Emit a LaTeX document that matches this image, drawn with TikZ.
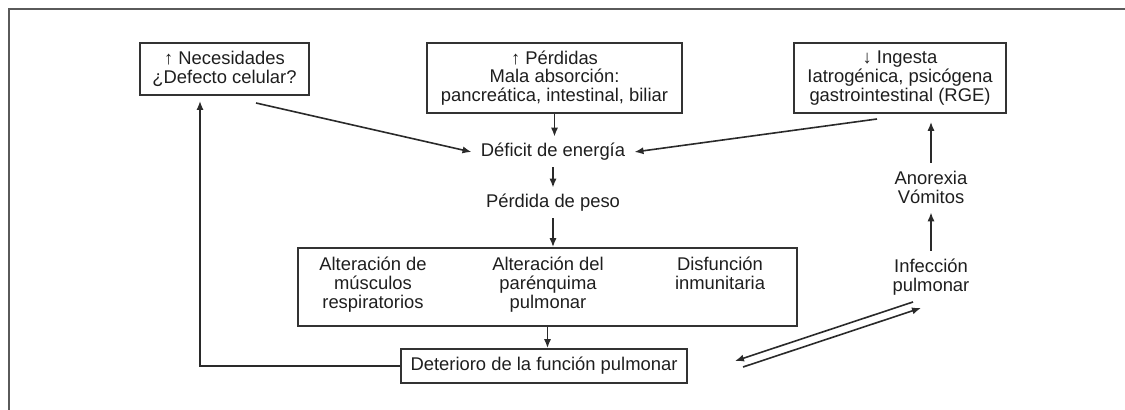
\documentclass[tikz,border=0pt]{standalone}
\usepackage{fontspec}
\setmainfont{Liberation Sans}
\usetikzlibrary{arrows.meta,calc}
\definecolor{txt}{HTML}{1E1E1E}
\definecolor{boxc}{HTML}{333333}
\definecolor{linec}{HTML}{2A2A2A}
\definecolor{framec}{HTML}{5A5A5A}
\begin{document}
\begin{tikzpicture}[x=0.5pt,y=-0.5pt,
  every node/.style={font=\fontsize{9.2}{9.3}\selectfont, text=txt, align=center},
  box/.style={draw=boxc, line width=0.9pt, inner sep=0pt},
  lbl/.style={inner sep=0pt},
  arr/.style={draw=linec, line width=0.8pt, -{Latex[length=4.5pt,width=3.6pt]}},
  ln/.style={draw=linec, line width=0.8pt}]
\useasboundingbox (0,0) rectangle (1125,410);
\draw[draw=framec, line width=1pt] (9,410) -- (9,9) -- (1125,9);

\node[box, minimum width=84.5pt, minimum height=26pt] (nec) at (224.5,69) {↑ Necesidades\\¿Defecto celular?};
\node[box, minimum width=127.5pt, minimum height=35pt] (per) at (554.5,78) {↑ Pérdidas\\Mala absorción:\\pancreática, intestinal, biliar};
\node[box, minimum width=106pt, minimum height=35pt] (ing) at (900,78) {↓ Ingesta\\Iatrogénica, psicógena\\gastrointestinal (RGE)};

\node[lbl, minimum height=15pt, inner xsep=4.5pt] (def) at (553,152) {Déficit de energía};
\node[lbl, minimum height=15pt] (peso) at (553,203) {Pérdida de peso};

\node[box, minimum width=249.5pt, minimum height=39pt] (alt) at (547.5,287) {};
\node[lbl, anchor=north] (mus) at (373,257) {Alteración de\\músculos\\respiratorios};
\node[lbl, anchor=north] (par) at (548,257) {Alteración del\\parénquima\\pulmonar};
\node[lbl, anchor=north] (inm) at (720,257) {Disfunción\\inmunitaria};

\node[box, minimum width=143pt, minimum height=17pt] (det) at (544,366) {Deterioro de la función pulmonar};

\node[lbl, minimum height=24.5pt] (ano) at (931,187.5) {Anorexia\\Vómitos};
\node[lbl, minimum height=26pt] (inf) at (931,277) {Infección\\pulmonar};

\coordinate (necin) at (200,101);
\coordinate (necout) at (256,103);
\coordinate (ingout) at (877,119);
\coordinate (d1s) at (913,302);
\coordinate (d1e) at (735,361);
\coordinate (d2s) at (743,367);
\coordinate (d2e) at (921,308);

\draw[arr] (det.west) -| (necin);
\draw[arr] (necout) -- (def.west);
\draw[arr] (ingout) -- (def.east);
\draw[arr] (per.south) -- (per.south |- def.north);
\draw[arr] (def.south) -- (peso.north);
\draw[arr] (peso.south) -- (peso.south |- alt.north);
\draw[arr] (alt.south) -- (alt.south |- det.north);
\draw[arr] (inf.north) -- (ano.south);
\draw[arr, shorten >=4pt] (ano.north) -- (ano.north |- ing.south);
\draw[arr] (d1s) -- (d1e);
\draw[arr] (d2s) -- (d2e);
\end{tikzpicture}
\end{document}
